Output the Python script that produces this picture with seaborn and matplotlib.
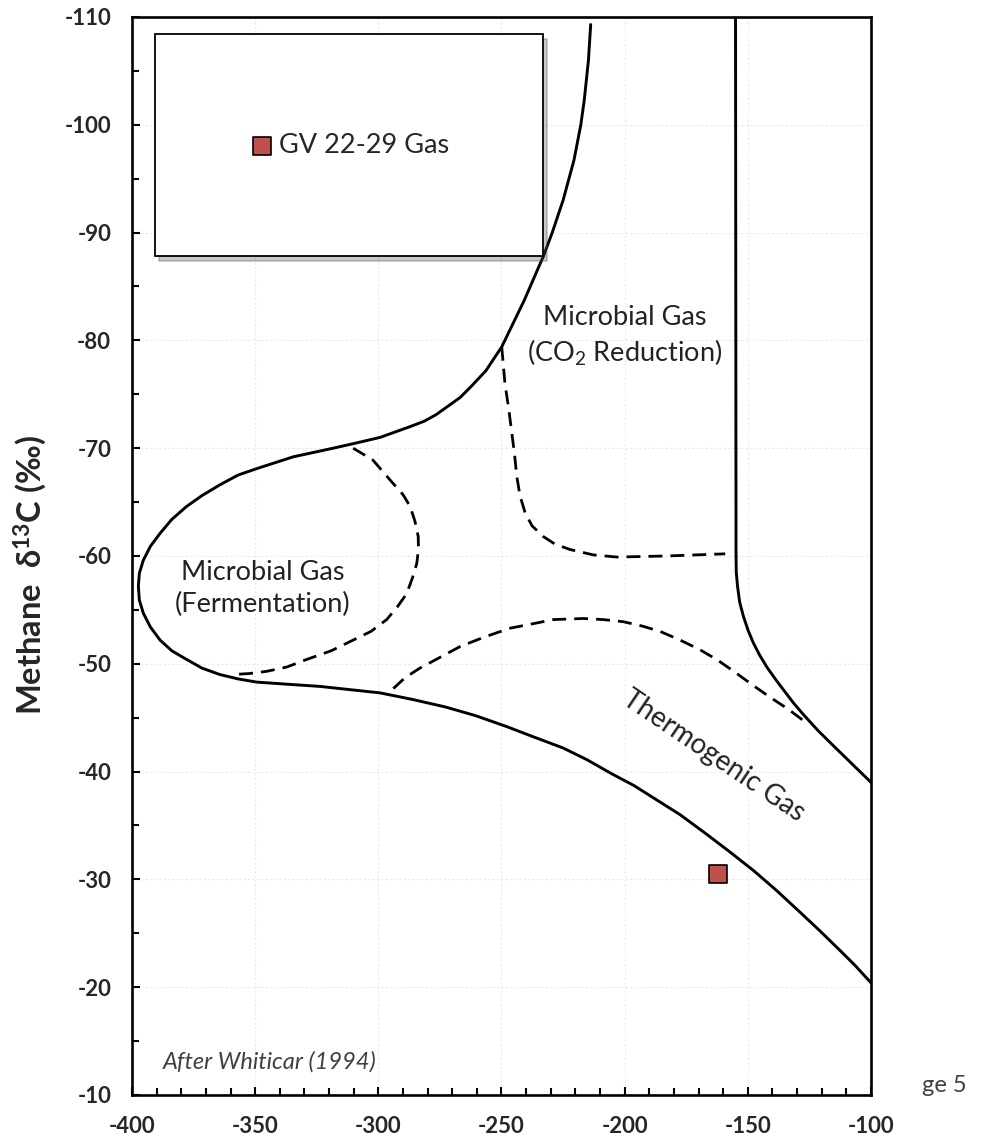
import matplotlib
matplotlib.use("Agg")
import matplotlib.pyplot as plt
import seaborn as sns
from matplotlib.patches import Rectangle, Shadow
from matplotlib.ticker import MultipleLocator

# sample point
sample_x = [-162]
sample_y = [-30.5]
sample_label = "GV 22-29 Gas"

# outer solid boundary (microbial CO2 -> fermentation loop -> thermogenic lower edge)
outer_x = [-213.8, -214.7, -216.4, -217.8, -220.6, -225.0, -229.4, -233.0, -240.8, -249.9,
           -256.3, -262.0, -266.8, -271.7, -276.6, -281.4, -287.1, -293.2, -299.3, -308.6,
           -318.3, -334.5, -349.4,
           -357.0, -364.3, -371.6, -377.8, -383.8, -388.6, -392.5, -395.4, -397.0, -397.4,
           -397.0, -395.4, -392.5, -388.6, -383.8, -377.8, -371.6, -364.3, -357.0, -349.4,
           -336.7, -323.7, -311.5, -299.3, -286.3, -272.9, -260.7, -248.2, -236.8, -225.1,
           -215.3, -205.3, -196.2, -187.2, -177.5, -167.4, -157.6, -147.6, -138.5, -129.5,
           -121.1, -113.0, -106.4, -100.0]
outer_y = [-109.3, -106.0, -102.3, -100.0, -96.7, -93.0, -90.0, -87.8, -83.7, -79.4,
           -77.2, -75.8, -74.7, -73.9, -73.1, -72.5, -72.0, -71.5, -71.0, -70.5,
           -70.0, -69.2, -68.1,
           -67.5, -66.6, -65.6, -64.6, -63.4, -62.1, -60.9, -59.6, -58.4, -57.2,
           -55.9, -54.7, -53.4, -52.2, -51.2, -50.4, -49.6, -49.0, -48.6, -48.3,
           -48.1, -47.9, -47.6, -47.3, -46.7, -46.0, -45.2, -44.2, -43.2, -42.2,
           -41.1, -39.8, -38.7, -37.4, -36.0, -34.3, -32.6, -30.8, -29.0, -27.1,
           -25.3, -23.5, -22.0, -20.4]

# right solid boundary
right_x = [-155.0, -154.8, -154.7, -154.2, -153.3, -151.8, -149.9, -147.7, -145.2, -142.3,
           -138.9, -135.6, -131.6, -127.5, -121.5, -115.3, -108.1, -100.0]
right_y = [-110.0, -60.1, -58.5, -57.2, -55.7, -54.4, -53.1, -51.9, -50.8, -49.7,
           -48.6, -47.6, -46.4, -45.3, -43.8, -42.4, -40.8, -39.0]

# dashed: fermentation field
ferm_x = [-310.2, -302.2, -293.9, -290.0, -287.1, -285.1, -283.8, -283.7, -284.4, -286.1,
          -288.5, -292.2, -296.6, -303.0, -310.2, -319.2, -329.1, -337.1, -345.3, -352.1, -358.9]
ferm_y = [-70.0, -68.9, -66.7, -65.7, -64.6, -63.2, -61.8, -60.6, -59.3, -58.0,
          -56.5, -55.3, -54.1, -53.0, -52.2, -51.2, -50.4, -49.7, -49.3, -49.1, -49.0]

# dashed: CO2 reduction field
co2_x = [-249.9, -248.6, -247.1, -245.8, -244.7, -243.8, -242.5, -240.4, -237.6, -233.0,
         -228.3, -222.2, -212.7, -203.2, -182.9, -159.2]
co2_y = [-79.4, -76.0, -73.7, -71.4, -69.4, -67.4, -65.6, -64.0, -62.8, -61.8,
         -61.1, -60.6, -60.1, -59.9, -60.0, -60.2]

# dashed: thermogenic upper edge
thermo_x = [-293.9, -289.2, -283.1, -274.9, -266.8, -256.7, -246.5, -237.6, -228.9, -216.8,
            -208.8, -200.5, -192.9, -185.6, -177.5, -169.4, -162.0, -154.5, -147.9, -141.0,
            -133.7, -126.1]
thermo_y = [-47.7, -48.7, -49.6, -50.6, -51.6, -52.5, -53.3, -53.7, -54.1, -54.2,
            -54.1, -53.9, -53.5, -53.0, -52.2, -51.3, -50.3, -49.1, -48.0, -46.9,
            -45.8, -44.5]

x_ticks = [-400, -350, -300, -250, -200, -150, -100]
y_ticks = [-110, -100, -90, -80, -70, -60, -50, -40, -30, -20, -10]

sns.set_theme(style="ticks")
plt.rcParams["font.family"] = ["Lato", "DejaVu Sans"]
plt.rcParams["mathtext.fontset"] = "custom"
plt.rcParams["mathtext.rm"] = "Lato"
plt.rcParams["mathtext.it"] = "Lato:italic"
plt.rcParams["mathtext.bf"] = "Lato:bold"

fig = plt.figure(figsize=(9.87, 11.40), dpi=100)
ax = fig.add_axes([0.1337, 0.0395, 0.7488, 0.9456])
ax.set_axisbelow(True)
ax.grid(True, which="major", color="#e8e8e8", linewidth=0.8, linestyle=(0, (2, 2)))

solid_kw = dict(color="black", linewidth=2.1, sort=False, estimator=None, legend=False, ax=ax)
sns.lineplot(x=outer_x, y=outer_y, **solid_kw)
sns.lineplot(x=right_x, y=right_y, **solid_kw)

dash_kw = dict(color="black", linewidth=2.0, linestyle=(0, (5.0, 2.9)), sort=False,
               estimator=None, legend=False, ax=ax)
for xs, ys in [(ferm_x, ferm_y), (co2_x, co2_y), (thermo_x, thermo_y)]:
    sns.lineplot(x=xs, y=ys, **dash_kw)

sns.scatterplot(x=sample_x, y=sample_y, marker="s", s=170, color="#C0504D",
                edgecolor="black", linewidth=1.2, label=sample_label, ax=ax, zorder=6)

ax.set_xlim(-400, -100)
ax.set_ylim(-10, -110)
ax.set_xticks(x_ticks)
ax.set_yticks(y_ticks)
ax.set_xticklabels([str(v) for v in x_ticks], fontweight="bold")
ax.set_yticklabels([str(v) for v in y_ticks], fontweight="bold")
ax.xaxis.set_minor_locator(MultipleLocator(10))
ax.yaxis.set_minor_locator(MultipleLocator(5))
ax.tick_params(which="both", direction="in", width=1.5, color="black",
               top=False, right=False, labelsize=16, pad=15)
ax.tick_params(which="major", length=6)
ax.tick_params(which="minor", length=5)
for sp in ax.spines.values():
    sp.set_visible(True)
    sp.set_color("black")
    sp.set_linewidth(1.9)

ax.set_xlabel("")
ax.set_ylabel(r"Methane  δ$^{\mathbf{13}}$C (‰)", fontsize=23.5, fontweight="bold")
ax.yaxis.set_label_coords(-0.112, 0.482)

# legend box with shadow
box = Rectangle((0.031, 0.778), 0.525, 0.206, transform=ax.transAxes,
                facecolor="white", edgecolor="black", linewidth=1.3, zorder=4)
shadow = Shadow(box, 0.004, -0.003, alpha=0.3, zorder=3.9)
ax.add_patch(shadow)
ax.add_patch(box)
leg = ax.legend(loc="center", bbox_to_anchor=(0.2935, 0.881), bbox_transform=ax.transAxes,
                frameon=False, fontsize=19.5, handletextpad=0.1, handlelength=1.0,
                borderaxespad=0)
leg.set_zorder(7)

ax.text(-200, -80.4, "Microbial Gas\n(CO$_2$ Reduction)", ha="center", va="center",
        fontsize=19.5, color="#222222", linespacing=1.32)
ax.text(-347, -57.0, "Microbial Gas\n(Fermentation)", ha="center", va="center",
        fontsize=19.5, color="#222222", linespacing=1.32)
ax.text(-164, -41.5, "Thermogenic Gas", rotation=-34, rotation_mode="anchor",
        ha="center", va="center", fontsize=20, color="#222222")
ax.text(-387.4, -13.1, "After Whiticar (1994)", ha="left", va="center",
        fontsize=17, style="italic", color="#404040")
fig.text(922 / 987, 1 - 1085 / 1140, "ge 5", ha="left", va="center",
         fontsize=17, color="#404040")

fig.savefig("out.png", dpi=100)
